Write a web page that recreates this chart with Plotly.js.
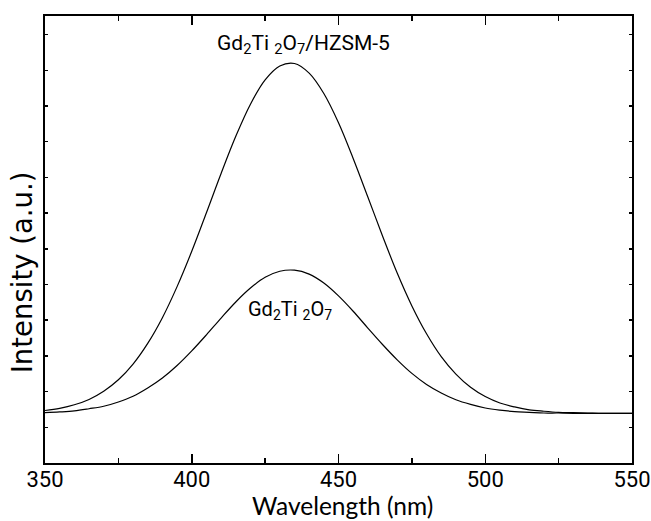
<!DOCTYPE html>
<html>
<head>
<meta charset="utf-8">
<script src="https://cdn.plot.ly/plotly-3.0.1.min.js"></script>
<style>html,body{margin:0;padding:0;background:#fff;}#chart{width:651px;height:521px;}</style>
</head>
<body>
<div id="chart"></div>
<script>
// Wavelength (nm)
var wavelength = [350,355,360,365,370,375,380,385,390,395,400,405,410,415,420,425,430,435,440,445,450,455,460,465,470,475,480,485,490,495,500,505,510,515,520,525,530,535,540,545,550];
// Gd2Ti2O7/HZSM-5 intensity (a.u.)
var hzsm = [1.47,1.53,1.63,1.78,2.01,2.33,2.77,3.35,4.07,4.94,5.93,7.01,8.11,9.15,10.05,10.73,11.12,11.19,10.92,10.35,9.53,8.53,7.45,6.36,5.32,4.40,3.62,2.98,2.49,2.12,1.86,1.68,1.57,1.49,1.45,1.42,1.41,1.40,1.39,1.39,1.39];
// Gd2Ti2O7 intensity (a.u.)
var gto = [1.41,1.43,1.46,1.52,1.59,1.71,1.87,2.10,2.38,2.73,3.14,3.59,4.06,4.51,4.90,5.20,5.37,5.40,5.29,5.04,4.68,4.25,3.78,3.32,2.89,2.51,2.20,1.96,1.77,1.64,1.54,1.48,1.44,1.42,1.40,1.40,1.39,1.39,1.39,1.39,1.39];
var xTicks = [350,400,450,500,550];
var labels = ["Gd<sub>2</sub>Ti <sub>2</sub>O<sub>7</sub>/HZSM-5", "Gd<sub>2</sub>Ti <sub>2</sub>O<sub>7</sub>"];
var xTitle = 'Wavelength (nm)';
var yTitle = 'Intensity (a.u.)';

var NARROW = "Roboto, 'Liberation Sans', sans-serif";
var TITLEX = "Lato, 'Open Sans', sans-serif";
var TITLEY = "'DejaVu Sans', Verdana, sans-serif";
var traces = [
  {x: wavelength, y: hzsm, mode: 'lines', line: {color: '#000', width: 1.2, shape: 'spline'}, hoverinfo: 'skip'},
  {x: wavelength, y: gto, mode: 'lines', line: {color: '#000', width: 1.2, shape: 'spline'}, hoverinfo: 'skip'}
];
var layout = {
  width: 651, height: 521,
  margin: {l: 45, r: 19, t: 16, b: 58},
  paper_bgcolor: '#fff', plot_bgcolor: '#fff',
  showlegend: false,
  font: {family: NARROW, color: '#000', size: 21},
  xaxis: {
    range: [350, 550], tickvals: xTicks, ticktext: xTicks.map(String),
    ticks: 'inside', ticklen: 9, tickwidth: 1.5, tickcolor: '#000',
    minor: {dtick: 25, tick0: 350, ticks: 'inside', ticklen: 5, tickwidth: 1.5, tickcolor: '#000', showgrid: false},
    showline: true, linecolor: '#000', linewidth: 2, mirror: 'ticks',
    showgrid: false, zeroline: false,
    ticklabeloverflow: 'allow', ticklabelstandoff: -4,
    tickfont: {family: NARROW, size: 22, color: '#000'}
  },
  yaxis: {
    range: [0, 12.52], dtick: 1, tick0: 0,
    ticks: 'inside', ticklen: 3, tickwidth: 1.5, tickcolor: '#000',
    showticklabels: false,
    showline: true, linecolor: '#000', linewidth: 2, mirror: 'ticks',
    showgrid: false, zeroline: false
  },
  annotations: [
    {x: 438.2, y: 11.29, xref: 'x', yref: 'y', text: labels[0], showarrow: false, font: {family: NARROW, size: 21, color: '#000'}, xanchor: 'center', yanchor: 'bottom'},
    {x: 433.6, y: 3.9, xref: 'x', yref: 'y', text: labels[1], showarrow: false, font: {family: NARROW, size: 20, color: '#000'}, xanchor: 'center', yanchor: 'middle', yshift: 14},
    {x: 0.506, y: -0.096, xref: 'paper', yref: 'paper', text: xTitle, showarrow: false, borderpad: 0, font: {family: TITLEX, size: 24.5, color: '#000'}, xanchor: 'center', yanchor: 'middle'},
    {x: -0.039, y: 0.427, xref: 'paper', yref: 'paper', text: yTitle, textangle: -90, showarrow: false, font: {family: TITLEY, size: 27.5, color: '#000'}, xanchor: 'center', yanchor: 'middle'}
  ]
};
Plotly.newPlot('chart', traces, layout, {staticPlot: true, displayModeBar: false});
</script>
</body>
</html>
